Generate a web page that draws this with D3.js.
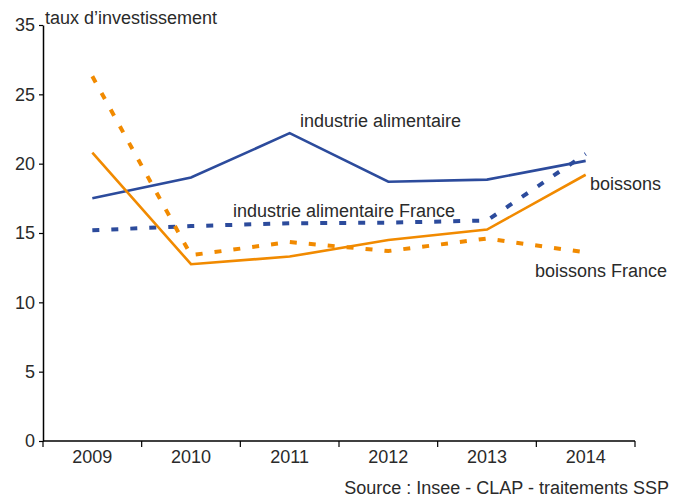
<!DOCTYPE html>
<html>
<head>
<meta charset="utf-8">
<script src="https://cdn.jsdelivr.net/npm/d3@7"></script>
<style>
  body { margin: 0; background: #fff; }
  text { font-family: "Liberation Sans", Arial, sans-serif; }
</style>
</head>
<body>
<div id="chart-area"></div>
<script>
// taux d'investissement, 2009-2014
var years = ['2009', '2010', '2011', '2012', '2013', '2014'];
var iaa = [17.5, 19.0, 22.2, 18.7, 18.85, 20.2];
var iaaFrance = [15.2, 15.5, 15.7, 15.75, 15.9, 20.7];
var boissons = [20.8, 12.75, 13.3, 14.5, 15.25, 19.2];
var boissonsFrance = [26.3, 13.4, 14.35, 13.7, 14.6, 13.6];
var yTicks = [0, 5, 10, 15, 20, 25, 30];
var yTickLabels = ['0', '5', '10', '15', '20', '25', '35'];

var svgWidth = 673, svgHeight = 498;
var margin = {left: 43, right: 38, top: 25, bottom: 57};
var width = svgWidth - margin.left - margin.right;
var height = svgHeight - margin.top - margin.bottom;

var blue = '#2c4b9c', orange = '#f18a00', ink = '#2a2a2a';
var fs = 18;

var svg = d3.select('#chart-area')
  .append('svg')
  .attr('width', svgWidth)
  .attr('height', svgHeight);

var g = svg.append('g')
  .attr('transform', 'translate(' + margin.left + ',' + margin.top + ')');

var xBand = d3.scaleBand().domain(years).range([0, width]);
var x = function(d) { return xBand(d) + xBand.bandwidth() / 2; };
var y = d3.scaleLinear().domain([0, 30]).range([height, 0]);

// y axis
var yAxis = d3.axisLeft(y)
  .tickValues(yTicks)
  .tickFormat(function(d, i) { return yTickLabels[i]; })
  .tickSize(4)
  .tickSizeOuter(0)
  .tickPadding(4);

var ya = g.append('g').call(yAxis);
ya.select('.domain').attr('stroke', '#000').attr('stroke-width', 1.5);
ya.selectAll('.tick line').attr('stroke', '#000').attr('stroke-width', 1.2);
ya.selectAll('text').attr('font-size', fs).attr('fill', ink)
  .attr('font-family', '"Liberation Sans", Arial, sans-serif');

// x axis: labels at band centres, ticks at band edges
var xa = g.append('g')
  .attr('transform', 'translate(0,' + height + ')');
xa.append('line')
  .attr('x1', 0).attr('x2', width)
  .attr('stroke', '#000').attr('stroke-width', 1.5);
var edges = years.map(function(d) { return xBand(d); }).concat([width]);
xa.selectAll('line.tk').data(edges).enter()
  .append('line').attr('class', 'tk')
  .attr('x1', function(d) { return d; }).attr('x2', function(d) { return d; })
  .attr('y1', 0).attr('y2', 6)
  .attr('stroke', '#000').attr('stroke-width', 1.2);
xa.selectAll('text').data(years).enter()
  .append('text')
  .attr('x', function(d) { return x(d); })
  .attr('y', 22)
  .attr('text-anchor', 'middle')
  .attr('font-size', fs).attr('fill', ink)
  .text(function(d) { return d; });

// lines
var line = d3.line()
  .x(function(d, i) { return x(years[i]); })
  .y(function(d) { return y(d); });

var series = [
  {values: iaaFrance, color: blue, dash: '7,12', w: 4},
  {values: boissonsFrance, color: orange, dash: '7,12', w: 4},
  {values: iaa, color: blue, dash: null, w: 2.6},
  {values: boissons, color: orange, dash: null, w: 2.6}
];

g.selectAll('path.serie').data(series).enter()
  .append('path').attr('class', 'serie')
  .attr('d', function(d) { return line(d.values); })
  .attr('fill', 'none')
  .attr('stroke', function(d) { return d.color; })
  .attr('stroke-width', function(d) { return d.w; })
  .attr('stroke-dasharray', function(d) { return d.dash; });

// labels
svg.append('text')
  .attr('x', 45).attr('y', 24)
  .attr('font-size', fs).attr('fill', ink)
  .text('taux d\u2019investissement');

var labels = [
  {t: 'industrie alimentaire', x: 300, y: 127},
  {t: 'industrie alimentaire France', x: 233, y: 217},
  {t: 'boissons', x: 590, y: 190},
  {t: 'boissons France', x: 535, y: 277}
];
svg.selectAll('text.lab').data(labels).enter()
  .append('text').attr('class', 'lab')
  .attr('x', function(d) { return d.x; })
  .attr('y', function(d) { return d.y; })
  .attr('font-size', fs).attr('fill', ink)
  .text(function(d) { return d.t; });

svg.append('text')
  .attr('x', 669).attr('y', 494)
  .attr('text-anchor', 'end')
  .attr('font-size', fs).attr('fill', ink)
  .text('Source : Insee - CLAP - traitements SSP');
</script>
</body>
</html>
